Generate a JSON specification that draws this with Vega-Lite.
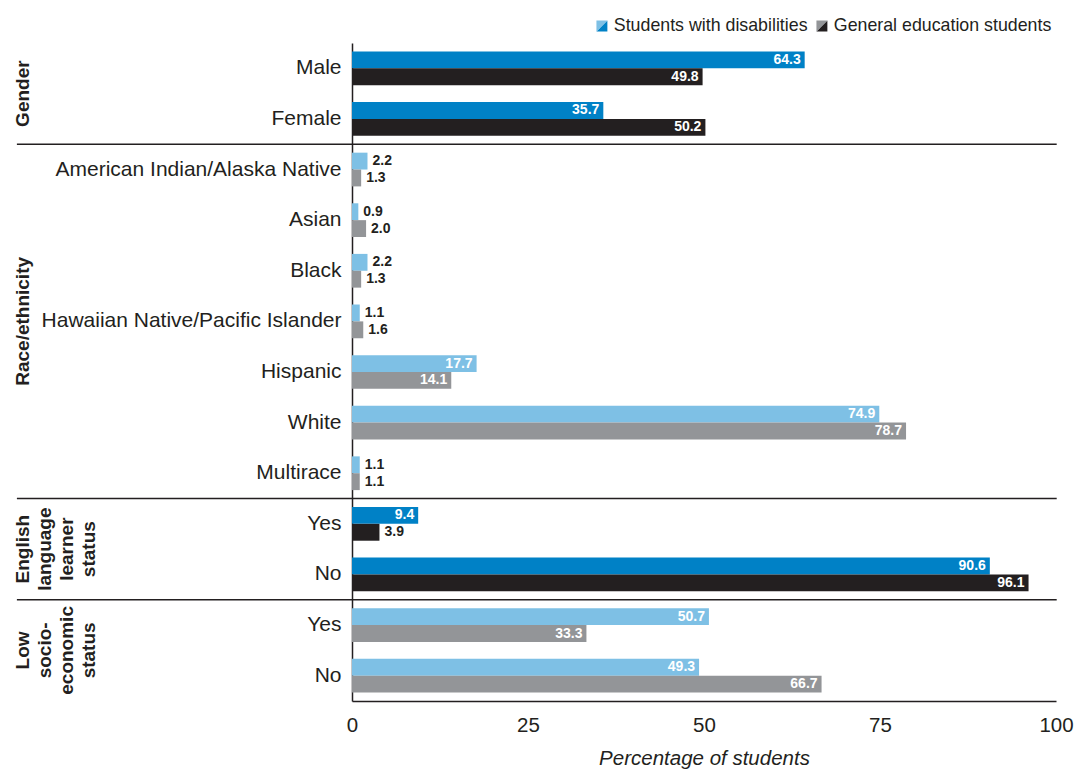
{
  "$schema": "https://vega.github.io/schema/vega-lite/v6.json",
  "autosize": "none",
  "width": 704,
  "height": 658,
  "padding": {"left": 352, "top": 43, "right": 23, "bottom": 69},
  "background": "white",
  "config": {
    "view": {"stroke": null},
    "font": "Liberation Sans"
  },
  "datasets": {
    "shares": [
      {"section": "Gender", "row": "Male", "series": "Students with disabilities", "value": 64.3},
      {"section": "Gender", "row": "Male", "series": "General education students", "value": 49.8},
      {"section": "Gender", "row": "Female", "series": "Students with disabilities", "value": 35.7},
      {"section": "Gender", "row": "Female", "series": "General education students", "value": 50.2},
      {"section": "Race/ethnicity", "row": "American Indian/Alaska Native", "series": "Students with disabilities", "value": 2.2},
      {"section": "Race/ethnicity", "row": "American Indian/Alaska Native", "series": "General education students", "value": 1.3},
      {"section": "Race/ethnicity", "row": "Asian", "series": "Students with disabilities", "value": 0.9},
      {"section": "Race/ethnicity", "row": "Asian", "series": "General education students", "value": 2.0},
      {"section": "Race/ethnicity", "row": "Black", "series": "Students with disabilities", "value": 2.2},
      {"section": "Race/ethnicity", "row": "Black", "series": "General education students", "value": 1.3},
      {"section": "Race/ethnicity", "row": "Hawaiian Native/Pacific Islander", "series": "Students with disabilities", "value": 1.1},
      {"section": "Race/ethnicity", "row": "Hawaiian Native/Pacific Islander", "series": "General education students", "value": 1.6},
      {"section": "Race/ethnicity", "row": "Hispanic", "series": "Students with disabilities", "value": 17.7},
      {"section": "Race/ethnicity", "row": "Hispanic", "series": "General education students", "value": 14.1},
      {"section": "Race/ethnicity", "row": "White", "series": "Students with disabilities", "value": 74.9},
      {"section": "Race/ethnicity", "row": "White", "series": "General education students", "value": 78.7},
      {"section": "Race/ethnicity", "row": "Multirace", "series": "Students with disabilities", "value": 1.1},
      {"section": "Race/ethnicity", "row": "Multirace", "series": "General education students", "value": 1.1},
      {"section": "English language learner status", "row": "ELL|Yes", "series": "Students with disabilities", "value": 9.4},
      {"section": "English language learner status", "row": "ELL|Yes", "series": "General education students", "value": 3.9},
      {"section": "English language learner status", "row": "ELL|No", "series": "Students with disabilities", "value": 90.6},
      {"section": "English language learner status", "row": "ELL|No", "series": "General education students", "value": 96.1},
      {"section": "Low socio-economic status", "row": "SES|Yes", "series": "Students with disabilities", "value": 50.7},
      {"section": "Low socio-economic status", "row": "SES|Yes", "series": "General education students", "value": 33.3},
      {"section": "Low socio-economic status", "row": "SES|No", "series": "Students with disabilities", "value": 49.3},
      {"section": "Low socio-economic status", "row": "SES|No", "series": "General education students", "value": 66.7}
    ],
    "dividers": [
      {"row": "American Indian/Alaska Native"},
      {"row": "ELL|Yes"},
      {"row": "SES|Yes"}
    ],
    "sectionsEdge": [
      {"row": "Male", "label": "Gender"},
      {"row": "ELL|Yes", "label": "English\nlanguage\nlearner\nstatus"},
      {"row": "SES|Yes", "label": "Low\nsocio-\neconomic\nstatus"}
    ],
    "sectionsMid": [
      {"row": "Hawaiian Native/Pacific Islander", "label": "Race/ethnicity"}
    ]
  },
  "layer": [
    {
      "data": {"name": "shares"},
      "transform": [{"filter": "datum.section === 'Gender' || datum.section === 'English language learner status'"}],
      "mark": {"type": "bar"},
      "encoding": {
        "y": {
          "field": "row", "type": "nominal",
          "scale": {"domain": ["Male", "Female", "American Indian/Alaska Native", "Asian", "Black", "Hawaiian Native/Pacific Islander", "Hispanic", "White", "Multirace", "ELL|Yes", "ELL|No", "SES|Yes", "SES|No"], "paddingInner": 0, "paddingOuter": 0},
          "axis": {
            "title": null, "ticks": false, "domain": true, "domainColor": "#231F20", "domainWidth": 1.5,
            "labelFontSize": 21, "labelColor": "#231F20", "labelPadding": 11, "labelLimit": 400,
            "labelExpr": "peek(split(datum.label, '|'))"
          }
        },
        "yOffset": {
          "field": "series", "type": "nominal",
          "scale": {"domain": ["Students with disabilities", "General education students"], "paddingInner": 0, "paddingOuter": 0.5}
        },
        "x": {
          "field": "value", "type": "quantitative",
          "scale": {"domain": [0, 100], "nice": false},
          "axis": {
            "values": [0, 25, 50, 75, 100], "grid": false, "ticks": false,
            "domain": true, "domainColor": "#231F20", "domainWidth": 1.5,
            "labelFontSize": 20.5, "labelColor": "#231F20", "labelPadding": 14,
            "labelFlush": false, "labelOverlap": false,
            "title": "Percentage of students", "titleFontSize": 20.5, "titleFontStyle": "italic",
            "titleFontWeight": "normal", "titleColor": "#231F20", "titlePadding": 13
          }
        },
        "color": {
          "field": "series", "type": "nominal",
          "scale": {"domain": ["Students with disabilities", "General education students"], "range": ["#0081C6", "#231F20"]},
          "legend": {
            "title": null, "orient": "none", "direction": "horizontal",
            "legendX": 241, "legendY": -26, "padding": 0,
            "symbolType": "M1,-1L1,1L-1,1Z", "symbolSize": 120, "symbolStrokeWidth": 0, "symbolOpacity": 1,
            "labelFontSize": 17.8, "labelColor": "#231F20", "labelOffset": 3, "columnPadding": 5, "labelLimit": 300
          }
        }
      }
    },
    {
      "data": {"name": "shares"},
      "transform": [{"filter": "datum.section === 'Race/ethnicity' || datum.section === 'Low socio-economic status'"}],
      "mark": {"type": "bar"},
      "encoding": {
        "y": {"field": "row", "type": "nominal", "scale": {"domain": ["Male", "Female", "American Indian/Alaska Native", "Asian", "Black", "Hawaiian Native/Pacific Islander", "Hispanic", "White", "Multirace", "ELL|Yes", "ELL|No", "SES|Yes", "SES|No"]}},
        "yOffset": {"field": "series", "type": "nominal", "scale": {"domain": ["Students with disabilities", "General education students"]}},
        "x": {"field": "value", "type": "quantitative"},
        "color": {
          "field": "series", "type": "nominal",
          "scale": {"domain": ["Students with disabilities", "General education students"], "range": ["#7EC0E5", "#939598"]},
          "legend": {
            "title": null, "orient": "none", "direction": "horizontal",
            "legendX": 241, "legendY": -26, "padding": 0,
            "symbolType": "M-1,-1L1,-1L-1,1Z", "symbolSize": 120, "symbolStrokeWidth": 0, "symbolOpacity": 1,
            "labelFontSize": 17.8, "labelOpacity": 0, "labelOffset": 3, "columnPadding": 5, "labelLimit": 300
          }
        }
      }
    },
    {
      "data": {"name": "shares"},
      "transform": [{"filter": "datum.value >= 5"}],
      "mark": {"type": "text", "align": "right", "baseline": "middle", "dx": -4, "fontSize": 14, "fontWeight": "bold", "color": "white"},
      "encoding": {
        "y": {"field": "row", "type": "nominal"},
        "yOffset": {"field": "series", "type": "nominal"},
        "x": {"field": "value", "type": "quantitative"},
        "text": {"field": "value", "type": "quantitative", "format": ".1f"}
      }
    },
    {
      "data": {"name": "shares"},
      "transform": [{"filter": "datum.value < 5"}],
      "mark": {"type": "text", "align": "left", "baseline": "middle", "dx": 5, "fontSize": 14, "fontWeight": "bold", "color": "#231F20"},
      "encoding": {
        "y": {"field": "row", "type": "nominal"},
        "yOffset": {"field": "series", "type": "nominal"},
        "x": {"field": "value", "type": "quantitative"},
        "text": {"field": "value", "type": "quantitative", "format": ".1f"}
      }
    },
    {
      "data": {"name": "dividers"},
      "mark": {"type": "rule", "color": "#231F20", "strokeWidth": 1.5},
      "encoding": {
        "y": {"field": "row", "type": "nominal", "bandPosition": 0},
        "x": {"datum": -47.6},
        "x2": {"datum": 100.1}
      }
    },
    {
      "data": {"name": "sectionsEdge"},
      "mark": {"type": "text", "angle": 270, "align": "center", "baseline": "top", "lineBreak": "\n", "lineHeight": 22, "fontSize": 19, "fontWeight": "bold", "color": "#231F20"},
      "encoding": {
        "y": {"field": "row", "type": "nominal", "bandPosition": 1},
        "x": {"datum": -48.0},
        "text": {"field": "label", "type": "nominal"}
      }
    },
    {
      "data": {"name": "sectionsMid"},
      "mark": {"type": "text", "angle": 270, "align": "center", "baseline": "top", "fontSize": 19, "fontWeight": "bold", "color": "#231F20"},
      "encoding": {
        "y": {"field": "row", "type": "nominal", "bandPosition": 0.5},
        "x": {"datum": -48.0},
        "text": {"field": "label", "type": "nominal"}
      }
    }
  ],
  "resolve": {"scale": {"color": "independent"}, "legend": {"color": "independent"}}
}
